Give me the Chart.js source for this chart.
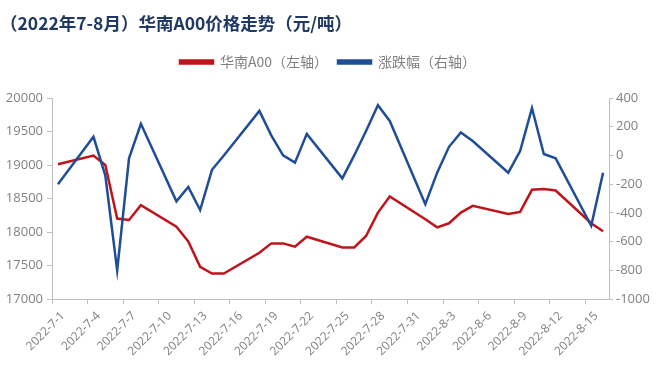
<!DOCTYPE html>
<html>
<head>
<meta charset="utf-8">
<script src="https://cdn.jsdelivr.net/npm/chart.js@4/dist/chart.umd.min.js"></script>
<style>
  html, body { margin: 0; padding: 0; background: #fff; }
  #wrap { width: 656px; height: 372px; }
</style>
</head>
<body>
<div id="wrap"><canvas id="priceChart" width="656" height="372"></canvas></div>
<script>
// trading days shown on the chart (calendar axis, weekends have no value)
var tradeDays = ['7-1', '7-4', '7-5', '7-6', '7-7', '7-8', '7-11', '7-12', '7-13', '7-14', '7-15',
  '7-18', '7-19', '7-20', '7-21', '7-22', '7-25', '7-26', '7-27', '7-28', '7-29',
  '8-1', '8-2', '8-3', '8-4', '8-5', '8-8', '8-9', '8-10', '8-11', '8-12', '8-15', '8-16'];

// 华南A00 price, yuan/ton (left axis)
var priceA00 = [19010, 19140, 19000, 18200, 18180, 18400, 18080, 17860, 17480, 17380, 17380,
  17690, 17830, 17830, 17780, 17930, 17770, 17770, 17940, 18290, 18530,
  18190, 18070, 18130, 18290, 18390, 18270, 18300, 18630, 18640, 18620, 18130, 18010];

// daily change (right axis)
var changeA00 = [-200, 130, -140, -800, -20, 220, -320, -220, -380, -100, 0,
  310, 140, 0, -50, 150, -160, 0, 170, 350, 240,
  -340, -120, 60, 160, 100, -120, 30, 330, 10, -20, -490, -120];

var leftTicks = [17000, 20000, 500];
var rightTicks = [-1000, 400, 200];

// full calendar from 7-1 to 8-16
var calendar = [];
for (var m = 7; m <= 8; m++) {
  var last = m === 7 ? 31 : 16;
  for (var d = 1; d <= last; d++) calendar.push(m + '-' + d);
}

function onCalendar(values) {
  return calendar.map(function (day) {
    var i = tradeDays.indexOf(day);
    return i < 0 ? null : values[i];
  });
}

var axisGrey = '#bfbfbf';
var textGrey = '#808080';

// leave some room between the legend and the plot
var legendGap = {
  id: 'legendGap',
  beforeInit: function (chart) {
    var fit = chart.legend.fit;
    chart.legend.fit = function () {
      fit.bind(chart.legend)();
      this.height += 19;
    };
  }
};

function plain(v) { return String(v); }

new Chart(document.getElementById('priceChart'), {
  type: 'line',
  plugins: [legendGap],
  data: {
    labels: calendar.map(function (d) { return '2022-' + d; }),
    datasets: [{
      label: '华南A00（左轴）',
      data: onCalendar(priceA00),
      borderColor: '#c0141c',
      backgroundColor: '#c0141c',
      borderWidth: 2.5,
      pointRadius: 0,
      tension: 0,
      spanGaps: true,
      yAxisID: 'y',
      order: 1
    }, {
      label: '涨跌幅（右轴）',
      data: onCalendar(changeA00),
      borderColor: '#1f4e96',
      backgroundColor: '#1f4e96',
      borderWidth: 2.5,
      pointRadius: 0,
      tension: 0,
      spanGaps: true,
      yAxisID: 'y1',
      order: 0
    }]
  },
  options: {
    responsive: false,
    animation: false,
    plugins: {
      title: {
        display: true,
        text: '（2022年7-8月）华南A00价格走势（元/吨）',
        align: 'start',
        color: '#1f3864',
        font: { family: 'Noto Sans CJK SC', size: 17.5, weight: 'bold' },
        padding: { top: 13, bottom: 11 }
      },
      legend: {
        display: true,
        labels: {
          boxWidth: 33,
          boxHeight: 3,
          color: textGrey,
          font: { family: 'Noto Sans CJK SC', size: 14 },
          padding: 10,
          sort: function (a, b) { return a.datasetIndex - b.datasetIndex; }
        }
      },
      tooltip: { enabled: false }
    },
    scales: {
      x: {
        type: 'category',
        offset: true,
        afterFit: function (s) { s.height = 73; },
        border: { color: axisGrey },
        grid: {
          offset: true,
          drawOnChartArea: false,
          tickLength: 5,
          color: function (ctx) { return ctx.index % 3 === 0 ? axisGrey : 'rgba(0,0,0,0)'; }
        },
        ticks: {
          autoSkip: false,
          minRotation: 45,
          maxRotation: 45,
          padding: 5,
          labelOffset: 5,
          color: textGrey,
          font: { family: 'Open Sans', size: 12 },
          callback: function (v, i) { return i % 3 === 0 ? this.getLabelForValue(v) : ''; }
        }
      },
      y: {
        position: 'left',
        min: leftTicks[0],
        max: leftTicks[1],
        afterFit: function (s) { s.width = 52; },
        border: { color: axisGrey },
        grid: { drawOnChartArea: false, tickLength: 5, color: axisGrey },
        ticks: {
          stepSize: leftTicks[2],
          padding: 4,
          color: textGrey,
          font: { family: 'Open Sans', size: 13 },
          callback: plain
        }
      },
      y1: {
        position: 'right',
        min: rightTicks[0],
        max: rightTicks[1],
        afterFit: function (s) { s.width = 47; },
        border: { color: axisGrey },
        grid: { drawOnChartArea: false, tickLength: 4, color: axisGrey },
        ticks: {
          stepSize: rightTicks[2],
          padding: 3,
          color: textGrey,
          font: { family: 'Open Sans', size: 13 },
          callback: plain
        }
      }
    }
  }
});
</script>
</body>
</html>
